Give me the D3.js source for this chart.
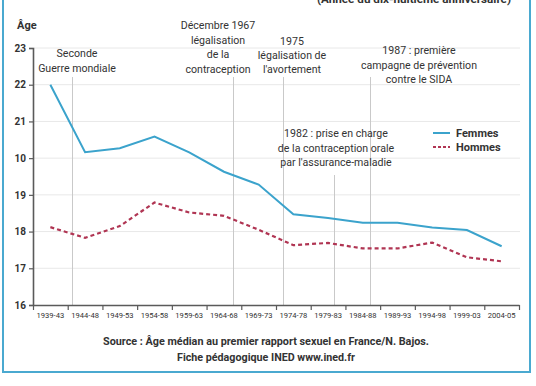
<!DOCTYPE html>
<html><head><meta charset="utf-8">
<script src="https://cdn.jsdelivr.net/npm/d3@7"></script>
<style>
html,body{margin:0;padding:0;background:#fff;}
svg{display:block;font-family:Roboto, "Noto Sans", sans-serif;}
</style></head>
<body>
<svg id="chart" width="536" height="386"></svg>
<script>
// ---- data ----
const categories = ["1939-43","1944-48","1949-53","1954-58","1959-63","1964-68","1969-73","1974-78","1979-83","1984-88","1989-93","1994-98","1999-03","2004-05"];
const femmes = [22.0, 20.16, 20.27, 20.59, 20.16, 19.63, 19.28, 18.47, 18.37, 18.24, 18.24, 18.11, 18.04, 17.6];
const hommes = [18.12, 17.83, 18.15, 18.79, 18.52, 18.43, 18.05, 17.63, 17.69, 17.54, 17.54, 17.7, 17.3, 17.19];
const yTicks = [16, 17, 18, 19, 20, 21, 22, 23];
const yTickLabels = ["16", "17", "18", "19", "10", "21", "22", "23"];
const boundaryYears = [1939,1944,1949,1954,1959,1964,1969,1974,1979,1984,1989,1994,1999,2004,2009];
const eventYears = [1944.6, 1967.8, 1975.0, 1982.4, 1987.5];
const eventLabels = [
  ["Seconde", "Guerre mondiale"],
  ["Décembre 1967", "légalisation", "de la", "contraception"],
  ["1975", "légalisation de", "l'avortement"],
  ["1982 : prise en charge", "de la contraception orale", "par l'assurance-maladie"],
  ["1987 : première", "campagne de prévention", "contre le SIDA"]
];
const seriesNames = ["Femmes", "Hommes"];
const titleText = "(Année du dix-huitième anniversaire)";
const yAxisTitle = "Âge";
const sourceLines = ["Source : Âge médian au premier rapport sexuel en France/N. Bajos.", "Fiche pédagogique INED www.ined.fr"];

// ---- layout ----
const L = {left: 33, right: 519, top: 48, bottom: 305, gridRight: 520};
const eventLineTop = [77, 77, 77, 175, 77];
const eventText = [
  {cx: 77, y: [57, 72]},
  {cx: 218, y: [29, 43.5, 58, 73]},
  {cx: 292, y: [44.5, 59, 73]},
  {cx: 336, y: [137, 151.5, 166]},
  {cx: 419, y: [54, 68.5, 83]}
];
const colors = {femmes: "#3ba3cc", hommes: "#b03553", grid: "#e8e8e8", event: "#c9c9c9", axis: "#5a5a5a", text: "#333", frame: "#4aa9d0"};

const svg = d3.select("#chart");

// frame
svg.append("path")
  .attr("d", `M3,-5 V372 H530 V-5`)
  .attr("fill", "none").attr("stroke", colors.frame).attr("stroke-width", 2);

const x = d3.scaleBand().domain(categories).range([L.left, L.right]).padding(0);
const xYear = d3.scaleLinear().domain([boundaryYears[0], boundaryYears[boundaryYears.length-1]]).range([L.left, L.right]);
const y = d3.scaleLinear().domain([16, 23]).range([L.bottom, L.top]);
const cx = d => x(d) + x.bandwidth() / 2;

// title (cut off at top)
svg.append("text").attr("x", 511).attr("y", 3).attr("text-anchor", "end")
  .attr("font-weight", "bold").attr("font-size", 11).attr("fill", colors.text)
  .attr("textLength", 194).attr("lengthAdjust", "spacingAndGlyphs").text(titleText);

// gridlines
svg.append("g").selectAll("line").data(yTicks.slice(1)).join("line")
  .attr("x1", L.left).attr("x2", L.gridRight)
  .attr("y1", d => y(d)).attr("y2", d => y(d))
  .attr("stroke", colors.grid).attr("stroke-width", 1);

// event lines
svg.append("g").selectAll("line").data(eventYears).join("line")
  .attr("x1", d => Math.round(xYear(d)) + 0.5).attr("x2", d => Math.round(xYear(d)) + 0.5)
  .attr("y1", (d, i) => eventLineTop[i]).attr("y2", L.bottom)
  .attr("stroke", colors.event).attr("stroke-width", 1);

// event text
eventLabels.forEach((lines, i) => {
  const t = eventText[i];
  svg.append("g").selectAll("text").data(lines).join("text")
    .attr("x", t.cx).attr("y", (d, j) => t.y[j])
    .attr("text-anchor", "middle").attr("font-size", 10.6).attr("fill", colors.text)
    .text(d => d);
});

// axes
const yAxis = svg.append("g").attr("transform", `translate(${L.left},0)`)
  .call(d3.axisLeft(y).tickValues(yTicks).tickFormat((d, i) => yTickLabels[i]).tickSize(4).tickPadding(3));
yAxis.select(".domain").attr("stroke", colors.axis).attr("stroke-width", 1.6);
yAxis.selectAll(".tick line").attr("stroke", colors.axis).attr("stroke-width", 1.2);
yAxis.selectAll(".tick text").attr("font-size", 10).attr("font-weight", "bold").attr("fill", colors.text)
  .attr("font-family", "Roboto, sans-serif");

const xTicks = svg.append("g").attr("transform", `translate(0,${L.bottom})`)
  .call(d3.axisBottom(xYear).tickValues(boundaryYears).tickFormat("").tickSize(5).tickSizeOuter(0));
xTicks.select(".domain").attr("stroke", colors.axis).attr("stroke-width", 1.6);
xTicks.selectAll(".tick line").attr("stroke", colors.axis).attr("stroke-width", 1.2);

const xLabels = svg.append("g").attr("transform", `translate(0,${L.bottom})`)
  .call(d3.axisBottom(x).tickSize(0).tickPadding(8));
xLabels.select(".domain").remove();
xLabels.selectAll(".tick text").attr("font-size", 7.6).attr("fill", colors.text)
  .attr("font-family", "Roboto, sans-serif");

// lines
const line = d3.line().x((d, i) => cx(categories[i])).y(d => y(d));
svg.append("path").datum(hommes).attr("d", line)
  .attr("fill", "none").attr("stroke", colors.hommes).attr("stroke-width", 2.2)
  .attr("stroke-dasharray", "4,3");
svg.append("path").datum(femmes).attr("d", line)
  .attr("fill", "none").attr("stroke", colors.femmes).attr("stroke-width", 2);

// y title
svg.append("text").attr("x", 17).attr("y", 29).attr("font-weight", "bold").attr("font-size", 11)
  .attr("fill", colors.text).text(yAxisTitle);

// legend
const legend = svg.append("g");
seriesNames.forEach((name, i) => {
  const ly = 133 + i * 14;
  legend.append("line").attr("x1", 433).attr("x2", 450).attr("y1", ly).attr("y2", ly)
    .attr("stroke", i === 0 ? colors.femmes : colors.hommes).attr("stroke-width", 2)
    .attr("stroke-dasharray", i === 0 ? null : "3,2");
  legend.append("text").attr("x", 456).attr("y", ly + 4).attr("font-weight", "bold").attr("font-size", 11)
    .attr("fill", colors.text).text(name);
});

// source
svg.append("g").selectAll("text").data(sourceLines).join("text")
  .attr("x", 266).attr("y", (d, i) => 345 + i * 16)
  .attr("text-anchor", "middle").attr("font-weight", "bold").attr("font-size", 11).attr("fill", colors.text)
  .attr("textLength", (d, i) => i === 0 ? 326 : 178).attr("lengthAdjust", "spacingAndGlyphs")
  .text(d => d);
</script>
</body></html>
